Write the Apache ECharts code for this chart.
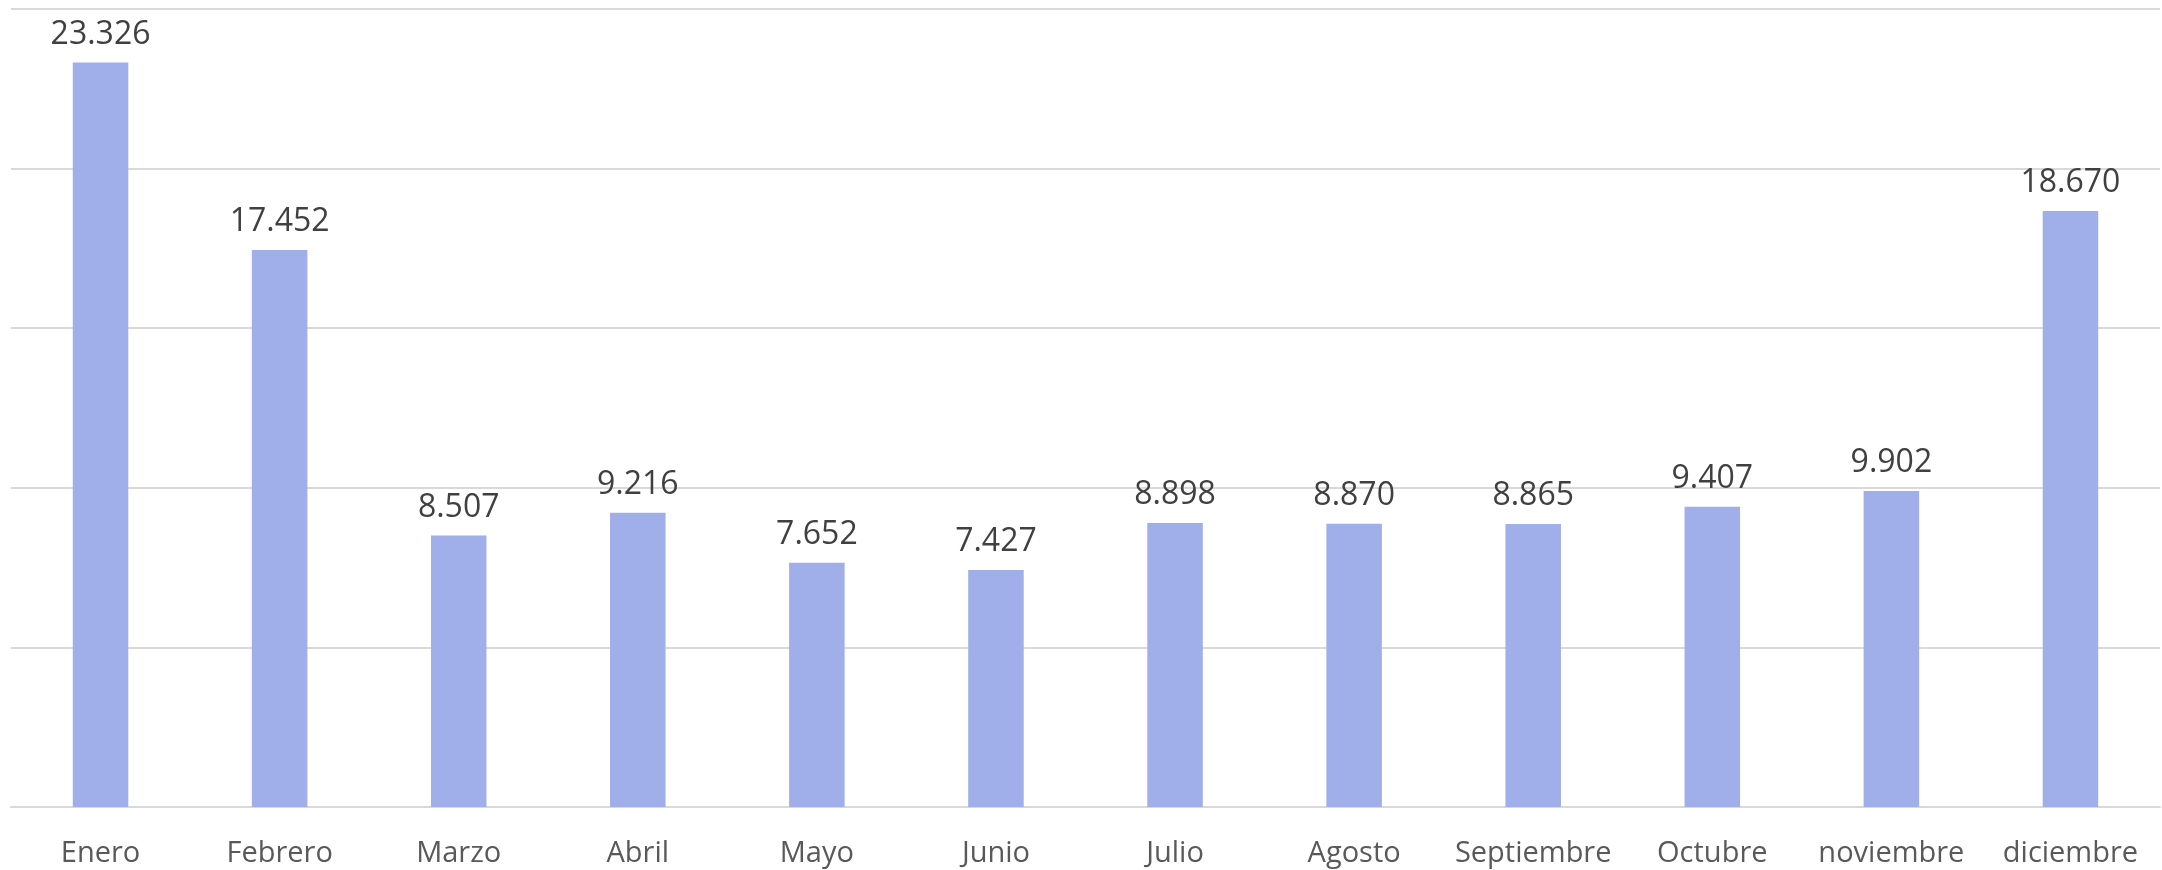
<!DOCTYPE html>
<html lang="es">
<head>
  <meta charset="UTF-8">
  <title>Meses</title>
  <script src="https://cdn.jsdelivr.net/npm/echarts@6/dist/echarts.min.js"></script>
  <style>
    html, body { margin: 0; padding: 0; background: #fff; }
    #chart { width: 2162px; height: 870px; }
  </style>
</head>
<body>
  <div id="chart"></div>
  <script>
    // datos
    const meses = ['Enero', 'Febrero', 'Marzo', 'Abril', 'Mayo', 'Junio', 'Julio',
      'Agosto', 'Septiembre', 'Octubre', 'noviembre', 'diciembre'];
    const valores = [23326, 17452, 8507, 9216, 7652, 7427, 8898, 8870, 8865, 9407, 9902, 18670];
    const ejeMax = 25000;
    const ejePaso = 5000;

    // separador de miles con punto
    function fmt(v) {
      return String(v).replace(/\B(?=(\d{3})+(?!\d))/g, '.');
    }

    let myChart = echarts.init(document.getElementById('chart'));

    let option = {
      animation: false,
      grid: {
        left: 11,
        right: 2,
        top: 9,
        bottom: 63
      },
      xAxis: {
        type: 'category',
        data: meses,
        axisTick: { show: false },
        axisLine: {
          show: true,
          lineStyle: { color: '#d9d9d9', width: 2 }
        },
        axisLabel: {
          interval: 0,
          hideOverlap: false,
          color: '#595959',
          fontSize: 29,
          fontFamily: 'Open Sans',
          margin: 32
        }
      },
      yAxis: {
        type: 'value',
        min: 0,
        max: ejeMax,
        interval: ejePaso,
        axisLabel: { show: false },
        axisLine: { show: false },
        axisTick: { show: false },
        splitLine: {
          lineStyle: { color: '#d9d9d9', width: 2 }
        }
      },
      series: [
        {
          type: 'bar',
          data: valores,
          barWidth: '31%',
          itemStyle: { color: '#a0aee9' },
          label: {
            show: true,
            position: 'top',
            distance: 12,
            color: '#404040',
            fontSize: 32,
            fontFamily: 'Open Sans',
            formatter: function (p) { return fmt(p.value); }
          }
        }
      ]
    };

    myChart.setOption(option);
  </script>
</body>
</html>
